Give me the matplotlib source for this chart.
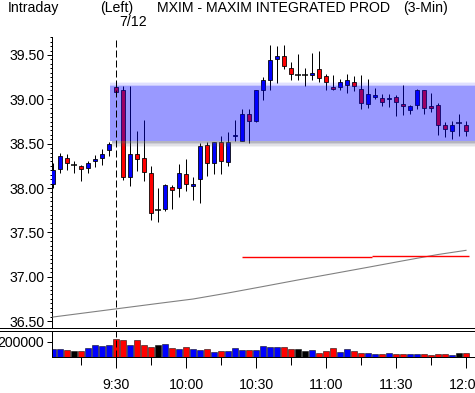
import matplotlib
matplotlib.use('Agg')
import matplotlib.pyplot as plt
from matplotlib.patches import Rectangle
from matplotlib.lines import Line2D

plt.rcParams['font.family'] = ['Liberation Sans', 'DejaVu Sans']
plt.rcParams['font.size'] = 10.2

# ---------------- data ----------------
opens = [38.05, 38.21, 38.34, 38.26, 38.25, 38.22, 38.30, 38.34, 38.43, 39.14,
         39.11, 38.12, 38.38, 38.34, 38.17, 37.75, 37.76, 38.01, 38.00, 38.16,
         38.02, 38.10, 38.49, 38.28, 38.52, 38.29, 38.59, 38.53, 38.83, 38.76,
         39.11, 39.22, 39.46, 39.49, 39.35, 39.28, 39.27, 39.27, 39.34, 39.26,
         39.14, 39.14, 39.16, 39.19, 39.12, 38.95, 39.03, 39.02, 39.00, 39.03,
         38.95, 38.88, 38.94, 39.10, 38.92, 38.94, 38.71, 38.64, 38.73, 38.71]
closes = [38.20, 38.36, 38.28, 38.26, 38.21, 38.28, 38.33, 38.38, 38.50, 39.08,
          38.12, 38.38, 38.33, 38.18, 37.72, 37.75, 38.03, 37.98, 38.17, 38.04,
          38.05, 38.47, 38.28, 38.52, 38.30, 38.52, 38.60, 38.83, 38.76, 39.11,
          39.22, 39.44, 39.49, 39.38, 39.29, 39.28, 39.27, 39.30, 39.24, 39.20,
          39.12, 39.19, 39.22, 39.15, 38.96, 39.06, 39.05, 38.97, 39.02, 38.97,
          38.93, 38.92, 39.11, 38.90, 38.90, 38.71, 38.66, 38.71, 38.73, 38.64]
highs = [38.28, 38.40, 38.38, 38.31, 38.26, 38.31, 38.37, 38.44, 38.52, 39.15,
         39.15, 39.15, 38.64, 38.77, 38.25, 38.00, 38.04, 38.03, 38.27, 38.33,
         38.12, 38.51, 38.52, 38.52, 38.59, 38.63, 38.77, 38.89, 38.89, 39.11,
         39.25, 39.61, 39.60, 39.61, 39.42, 39.51, 39.35, 39.52, 39.54, 39.29,
         39.27, 39.23, 39.29, 39.26, 39.28, 39.23, 39.13, 39.06, 39.06, 39.05,
         39.16, 38.94, 39.12, 39.11, 39.07, 38.96, 38.75, 38.76, 38.84, 38.76]
lows = [38.00, 38.17, 38.20, 38.17, 38.08, 38.17, 38.24, 38.26, 38.36, 39.05,
        38.09, 38.02, 38.19, 38.08, 37.64, 37.62, 37.74, 37.76, 37.90, 37.97,
        37.87, 37.83, 38.13, 38.16, 38.16, 38.25, 38.53, 38.53, 38.51, 38.75,
        38.99, 39.11, 39.18, 39.34, 39.22, 39.22, 39.15, 39.22, 39.20, 39.11,
        39.11, 39.11, 39.07, 39.09, 38.89, 38.90, 39.00, 38.92, 38.91, 38.81,
        38.82, 38.84, 38.89, 38.84, 38.86, 38.60, 38.57, 38.55, 38.59, 38.59]
volumes = [106000, 106000, 90000, 77000, 77000, 115000, 167000, 150000, 158000, 244000,
           231000, 167000, 231000, 167000, 128000, 167000, 180000, 115000, 103000, 141000,
           103000, 90000, 103000, 64000, 77000, 77000, 115000, 90000, 90000, 90000,
           154000, 137000, 137000, 128000, 103000, 103000, 77000, 90000, 51000, 77000,
           115000, 64000, 103000, 77000, 51000, 51000, 38000, 38000, 51000, 38000,
           38000, 38000, 38000, 38000, 30000, 38000, 38000, 30000, 51000, 51000]

# long moving average (read at sample bars)
ma_bars = [0, 5, 10, 15, 20, 25, 30, 35, 40, 45, 50, 55, 59]
ma_vals = [36.545, 36.596, 36.647, 36.698, 36.748, 36.816, 36.889, 36.963,
           37.034, 37.106, 37.179, 37.25, 37.297]
# red reference level segments: (start bar, end bar, price)
ref_segments = [(27.0, 45.5, 37.218), (45.5, 59.4, 37.233)]
# shaded zone
zone_start_bar = 8.14
zone_low, zone_high = 38.53, 39.15

session_bar = 9
time_tick_bars = [9, 19, 29, 39, 49, 59]
time_tick_labels = ['9:30', '10:00', '10:30', '11:00', '11:30', '12:00']
minor_time_bars = [4, 14, 24, 34, 44, 54]
price_ticks = [36.5, 37.0, 37.5, 38.0, 38.5, 39.0, 39.5]
vol_ticks = [200000]

# ---------------- layout ----------------
W, H = 475, 393
fig = plt.figure(figsize=(W / 100, H / 100), dpi=100)
def fx(p): return p / W
def fy(p): return 1 - p / H

XL = (-1 / 7, (475 - 53) / 7)
ax = fig.add_axes([fx(52), fy(327), 1 - fx(52), fy(37) - fy(327)])
axv = fig.add_axes([fx(52), fy(357.3), 1 - fx(52), fy(330.5) - fy(357.3)])

BLUE = (0, 0, 1)
RED = (1, 0, 0)
px = 0.72

n = len(opens)
for i in range(n):
    o, h, l, c = opens[i], highs[i], lows[i], closes[i]
    ax.vlines(i, l, h, color='black', lw=1 * px, zorder=2)
    if abs(c - o) < 0.005:
        ax.hlines(o, i - 0.36, i + 0.36, color='black', lw=1.5 * px, zorder=3)
    else:
        col = BLUE if c > o else RED
        ax.add_patch(Rectangle((i - 0.33, min(o, c)), 0.66, abs(c - o),
                               facecolor=col, edgecolor='black', lw=0.8 * px, zorder=3))

# shaded zone with soft edges
right = XL[1] + 1
ax.add_patch(Rectangle((zone_start_bar, zone_low), right - zone_start_bar,
                       zone_high - zone_low, facecolor=BLUE, alpha=0.4,
                       edgecolor='none', zorder=5))
pp = 1 / 88.67
for k, a in enumerate([0.22, 0.12, 0.05]):
    ax.add_patch(Rectangle((zone_start_bar, zone_high + k * pp * 1.3), right - zone_start_bar,
                           pp * 1.3, facecolor=BLUE, alpha=a, edgecolor='none', zorder=5))
for k, a in enumerate([0.45, 0.3, 0.18, 0.08]):
    ax.add_patch(Rectangle((zone_start_bar + 0.3, zone_low - (k + 1) * pp * 1.5), right - zone_start_bar,
                           pp * 1.5, facecolor=(0.35, 0.35, 0.45), alpha=a, edgecolor='none', zorder=5))

ax.plot(ma_bars, ma_vals, color=(0.5, 0.5, 0.5), lw=1.1 * px, zorder=4)
for s, e, p in ref_segments:
    ax.hlines(p, s, e, color=RED, lw=1.4 * px, zorder=4)

ax.axvline(session_bar, color='black', lw=1 * px, dashes=(7, 3), zorder=6)
axv.axvline(session_bar, color='black', lw=1 * px, dashes=(7, 3), zorder=6)

ax.set_xlim(*XL)
ax.set_ylim(39.5 - (327 - 55) / 88.67, 39.5 + (55 - 37) / 88.67)
ax.set_yticks(price_ticks)
ax.set_yticklabels(['%.2f' % t for t in price_ticks])
ax.set_yticks([36.5 + 0.05 * k for k in range(65)], minor=True)
ax.tick_params(axis='y', which='major', length=5 * px, width=1 * px, pad=2, direction='out')
ax.tick_params(axis='y', which='minor', length=2.5 * px, width=1 * px, direction='out')
ax.set_xticks([])
for s in ['top', 'right', 'bottom']:
    ax.spines[s].set_visible(False)
ax.spines['left'].set_linewidth(1 * px)

cols = []
for o, c in zip(opens, closes):
    cols.append(BLUE if c > o else (RED if c < o else 'black'))
axv.bar(range(n), volumes, width=0.72, color=cols, edgecolor='black', linewidth=0.5 * px)
axv.set_xlim(*XL)
axv.set_ylim(0, 350000)
axv.set_yticks(vol_ticks)
axv.set_yticklabels([str(v) for v in vol_ticks])
axv.tick_params(axis='y', length=5 * px, width=1 * px, pad=2)
axv.set_xticks(time_tick_bars)
axv.set_xticklabels(time_tick_labels)
axv.set_xticks(minor_time_bars, minor=True)
axv.tick_params(axis='x', which='major', length=11 * px, width=1 * px, pad=7)
axv.tick_params(axis='x', which='minor', length=8 * px, width=1 * px)
for s in ['top', 'right']:
    axv.spines[s].set_visible(False)
for s in ['left', 'bottom']:
    axv.spines[s].set_linewidth(1 * px)

# separator double line
for yy in (327.5, 330.5):
    fig.add_artist(Line2D([0, 1], [fy(yy), fy(yy)], color='black', lw=1 * px))

# header texts
fig.text(fx(8), fy(8), 'Intraday', ha='left', va='center')
fig.text(fx(100), fy(8), '(Left)', ha='left', va='center')
fig.text(fx(157), fy(8), 'MXIM - MAXIM INTEGRATED PROD', ha='left', va='center')
fig.text(fx(403), fy(8), '(3-Min)', ha='left', va='center')
fig.text(fx(119), fy(21.5), '7/12', ha='left', va='center')

fig.savefig('out.png', dpi=100)
